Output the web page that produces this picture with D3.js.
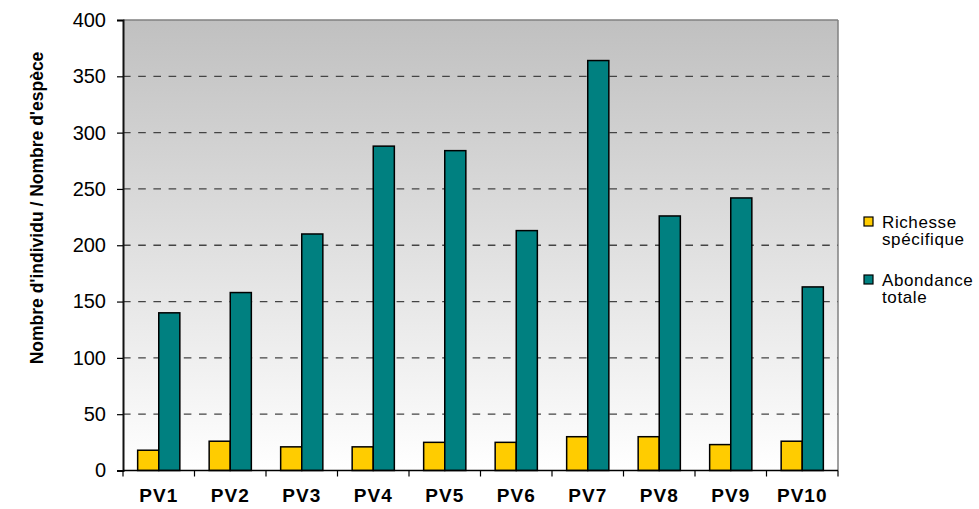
<!DOCTYPE html>
<html><head><meta charset="utf-8">
<script src="https://cdn.jsdelivr.net/npm/d3@7"></script>
<style>body{margin:0;background:#fff}svg{display:block}text{font-family:"Liberation Sans",Arial,sans-serif}</style>
</head><body>
<svg id="c" width="979" height="509"></svg>
<script>
const categories = ["PV1","PV2","PV3","PV4","PV5","PV6","PV7","PV8","PV9","PV10"];
const richesse = [18,26,21,21,25,25,30,30,23,26];
const abondance = [140,158,210,288,284,213,364,226,242,163];
const yTicks = [0,50,100,150,200,250,300,350,400];
const seriesNames = ["Richesse spécifique","Abondance totale"];
const colors = ["#FFCC00","#008080"];

const svg = d3.select("#c");
const L=123, R=838, T=20, B=470.5;
const x = d3.scaleBand().domain(categories).range([L,R]).paddingInner(0.41).paddingOuter(0.205);
const xs = d3.scaleBand().domain([0,1]).range([0,x.bandwidth()]);
const y = d3.scaleLinear().domain([0,400]).range([B,T]);

const defs = svg.append("defs");
const g = defs.append("linearGradient").attr("id","bg").attr("x1",0).attr("y1",0).attr("x2",0).attr("y2",1);
g.append("stop").attr("offset","0%").attr("stop-color","#c0c0c0");
g.append("stop").attr("offset","100%").attr("stop-color","#ffffff");

svg.append("rect").attr("x",L).attr("y",T).attr("width",R-L).attr("height",B-T).attr("fill","url(#bg)");
svg.append("line").attr("x1",L).attr("x2",R).attr("y1",T).attr("y2",T).attr("stroke","#808080").attr("stroke-width",1.5);
svg.append("line").attr("x1",R).attr("x2",R).attr("y1",T).attr("y2",B).attr("stroke","#808080").attr("stroke-width",1.5);

// gridlines
svg.append("g").selectAll("line").data(yTicks.filter(d=>d>0&&d<400)).join("line")
  .attr("x1",L).attr("x2",R).attr("y1",d=>y(d)).attr("y2",d=>y(d))
  .attr("stroke","#444").attr("stroke-width",1.3).attr("stroke-dasharray","7.6,7.6");

// y axis
const ya = svg.append("g").attr("transform",`translate(${L},0)`)
  .call(d3.axisLeft(y).tickValues(yTicks).tickSize(6).tickPadding(11));
ya.select(".domain").attr("stroke","#111").attr("stroke-width",2);
ya.selectAll(".tick line").attr("stroke","#000").attr("stroke-width",1.2);
ya.selectAll(".tick text").attr("font-size","20px").attr("fill","#000");

// bars
const grp = svg.append("g").selectAll("g").data(categories).join("g")
  .attr("transform",d=>`translate(${x(d)},0)`);
grp.selectAll("rect").data((d,i)=>[richesse[i],abondance[i]]).join("rect")
  .attr("x",(d,j)=>xs(j)).attr("width",xs.bandwidth())
  .attr("y",d=>y(d)).attr("height",d=>y(0)-y(d))
  .attr("fill",(d,j)=>colors[j]).attr("stroke","#000").attr("stroke-width",1.5);

// x axis
svg.append("line").attr("x1",L).attr("x2",R).attr("y1",B).attr("y2",B).attr("stroke","#000").attr("stroke-width",1.5);
const step = x.step();
svg.append("g").selectAll("line").data(d3.range(categories.length+1)).join("line")
  .attr("x1",i=>L+i*step).attr("x2",i=>L+i*step).attr("y1",B).attr("y2",B+6)
  .attr("stroke","#000").attr("stroke-width",1.2);
svg.append("g").selectAll("text").data(categories).join("text")
  .attr("x",d=>x(d)+x.bandwidth()/2).attr("y",502).attr("text-anchor","middle")
  .attr("font-size","19px").attr("font-weight","bold").attr("letter-spacing","1px").text(d=>d);

// y title
svg.append("text").attr("transform","translate(43,208) rotate(-90)").attr("text-anchor","middle")
  .attr("font-size","17.5px").attr("font-weight","bold").text("Nombre d'individu / Nombre d'espèce");

// legend
const leg = [
  {lines:["Richesse","spécifique"], y:217, c:colors[0]},
  {lines:["Abondance","totale"], y:275, c:colors[1]}
];
leg.forEach(l=>{
  svg.append("rect").attr("x",864).attr("y",l.y).attr("width",9).attr("height",9).attr("fill",l.c).attr("stroke","#000").attr("stroke-width",1.2);
  l.lines.forEach((t,k)=>{
    svg.append("text").attr("x",882).attr("y",l.y+10.5+k*17.5).attr("font-size","17px").attr("letter-spacing","0.6px").text(t);
  });
});
</script>
</body></html>
